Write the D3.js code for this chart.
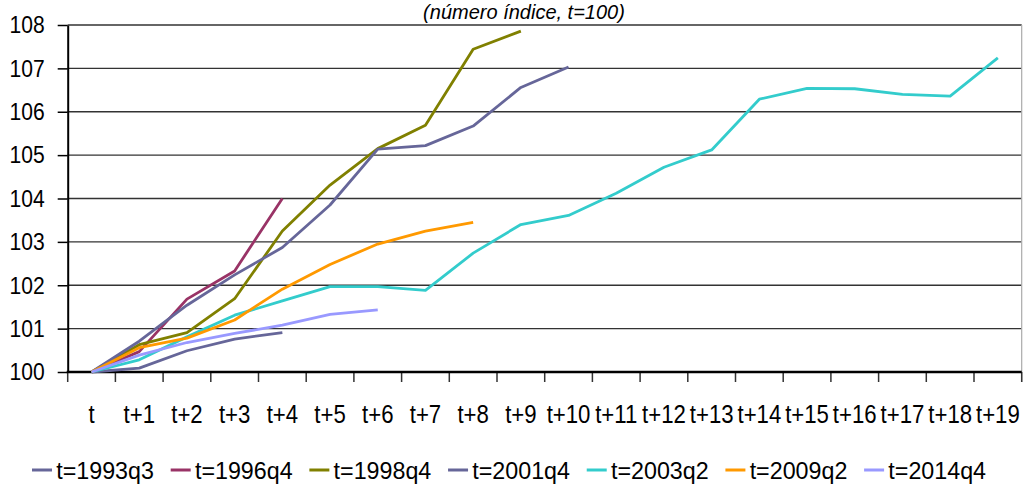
<!DOCTYPE html>
<html>
<head>
<meta charset="utf-8">
<script src="https://cdn.jsdelivr.net/npm/d3@7"></script>
<style>
	body { margin: 0; background: #fff; }
	svg { display: block; }
	text { font-family: "Liberation Sans", Arial, sans-serif; fill: #000; }
</style>
</head>
<body>
<svg id="chart" width="1029" height="486"></svg>
<script>

// categories along the x axis
var periods = ["t", "t+1", "t+2", "t+3", "t+4", "t+5", "t+6", "t+7", "t+8", "t+9",
	"t+10", "t+11", "t+12", "t+13", "t+14", "t+15", "t+16", "t+17", "t+18", "t+19"];

// index values (t = 100)
var s1993q3 = [100, 100.09, 100.49, 100.76, 100.91];
var s1996q4 = [100, 100.47, 101.68, 102.33, 104.0];
var s1998q4 = [100, 100.63, 100.91, 101.69, 103.25, 104.31, 105.15, 105.69, 107.44, 107.86];
var s2001q4 = [100, 100.71, 101.54, 102.24, 102.87, 103.85, 105.14, 105.22, 105.67, 106.56, 107.03];
var s2003q2 = [100, 100.28, 100.81, 101.31, 101.64, 101.97, 101.97, 101.88, 102.74, 103.40,
	103.61, 104.12, 104.72, 105.12, 106.29, 106.54, 106.53, 106.40, 106.36, 107.24];
var s2009q2 = [100, 100.56, 100.78, 101.20, 101.91, 102.48, 102.95, 103.25, 103.45];
var s2014q4 = [100, 100.39, 100.68, 100.89, 101.08, 101.33, 101.43];

var seriesNames = ["t=1993q3", "t=1996q4", "t=1998q4", "t=2001q4", "t=2003q2", "t=2009q2", "t=2014q4"];
var seriesColors = ["#666699", "#993366", "#808000", "#666699", "#33cccc", "#ff9900", "#9999ff"];
var seriesValues = [s1993q3, s1996q4, s1998q4, s2001q4, s2003q2, s2009q2, s2014q4];

var yTicks = [100, 101, 102, 103, 104, 105, 106, 107, 108];
var title = "(número índice, t=100)";

var svg = d3.select("#chart");

var plot = { left: 67.7, right: 1021.7, top: 25, bottom: 372 };

// the original uses a condensed face; squeeze Liberation Sans to match
var squeeze = 0.86;

var x = d3.scaleBand()
	.domain(periods)
	.range([plot.left, plot.right]);

var y = d3.scaleLinear()
	.domain([100, 108])
	.range([plot.bottom, plot.top]);

// title, right at the top edge
svg.append("text")
	.attr("x", 524)
	.attr("y", 19)
	.attr("text-anchor", "middle")
	.style("font-style", "italic")
	.style("font-size", "20px")
	.text(title);

// horizontal gridlines
svg.append("g")
	.selectAll("line")
	.data(yTicks.slice(1))
	.enter().append("line")
	.attr("x1", plot.left)
	.attr("x2", plot.right)
	.attr("y1", function(d) { return y(d); })
	.attr("y2", function(d) { return y(d); })
	.attr("stroke", "#333")
	.attr("stroke-width", 1.4);

// right border
svg.append("line")
	.attr("x1", plot.right).attr("x2", plot.right)
	.attr("y1", plot.top).attr("y2", plot.bottom + 10)
	.attr("stroke", "#aaa")
	.attr("stroke-width", 1.2);

// y axis
var yAxis = svg.append("g")
	.attr("transform", "translate(" + plot.left + ",0)")
	.call(d3.axisLeft(y).tickValues(yTicks).tickSize(10).tickSizeOuter(0).tickPadding(13));

yAxis.select(".domain").attr("stroke", "#000").attr("stroke-width", 2);
yAxis.selectAll(".tick line").attr("stroke", "#000").attr("stroke-width", 1.5);
yAxis.selectAll(".tick text")
	.style("font-family", "Liberation Sans, Arial, sans-serif")
	.style("font-size", "24.5px")
	.attr("fill", "#000")
	.attr("x", -23 / squeeze)
	.attr("transform", "scale(" + squeeze + ",1)");

// x axis labels (centred in each band)
var xAxis = svg.append("g")
	.attr("transform", "translate(0," + plot.bottom + ")")
	.call(d3.axisBottom(x).tickSize(0).tickPadding(33));

xAxis.select(".domain").remove();
xAxis.selectAll(".tick text")
	.style("font-family", "Liberation Sans, Arial, sans-serif")
	.style("font-size", "25.5px")
	.attr("fill", "#000")
	.attr("transform", "scale(0.87,1)");

// x tick marks sit on the band edges
var edges = periods.map(function(p) { return x(p); });
edges.push(plot.right);

svg.append("g")
	.selectAll("line")
	.data(edges)
	.enter().append("line")
	.attr("x1", function(d) { return d; })
	.attr("x2", function(d) { return d; })
	.attr("y1", plot.bottom)
	.attr("y2", plot.bottom + 10)
	.attr("stroke", "#333")
	.attr("stroke-width", 1.5);

svg.append("line")
	.attr("x1", plot.left - 1).attr("x2", plot.right)
	.attr("y1", plot.bottom).attr("y2", plot.bottom)
	.attr("stroke", "#000")
	.attr("stroke-width", 2.5);

// series lines
var line = d3.line()
	.x(function(d, i) { return x(periods[i]) + x.bandwidth() / 2; })
	.y(function(d) { return y(d); });

svg.append("g")
	.selectAll("path")
	.data(seriesValues)
	.enter().append("path")
	.attr("d", line)
	.attr("fill", "none")
	.attr("stroke", function(d, i) { return seriesColors[i]; })
	.attr("stroke-width", 2.8)
	.attr("stroke-linejoin", "round");

// legend
var legend = svg.append("g");
var lx = 32;
seriesNames.forEach(function(name, i) {
	var item = legend.append("g").attr("transform", "translate(" + lx + ",470)");
	item.append("line")
		.attr("x1", 0).attr("x2", 20)
		.attr("y1", 0).attr("y2", 0)
		.attr("stroke", seriesColors[i])
		.attr("stroke-width", 3);
	var t = item.append("text")
		.attr("x", 25)
		.attr("y", 9)
		.attr("transform", "scale(0.97,1)")
		.style("font-size", "24px")
		.text(name);
	lx += 25 + t.node().getComputedTextLength() * 0.97 + 16;
});

</script>
</body>
</html>
